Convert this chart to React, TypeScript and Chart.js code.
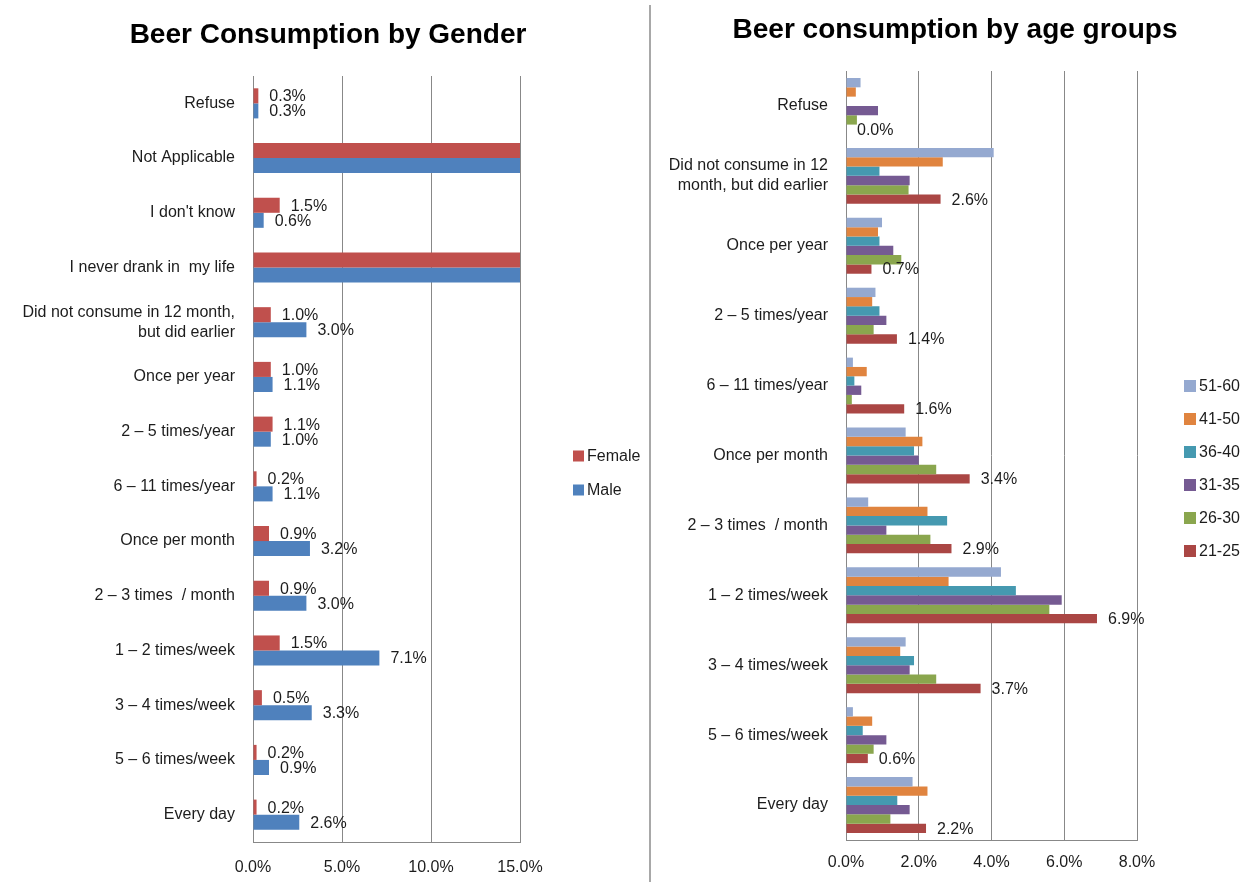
import React, { useEffect, useRef } from "react";
import { Chart, registerables } from "chart.js";

Chart.register(...registerables);

// ---------- Data: Beer consumption by gender ----------
const genderCategories: (string | string[])[] = [
  "Refuse",
  "Not Applicable",
  "I don't know",
  "I never drank in  my life",
  ["Did not consume in 12 month,", "but did earlier"],
  "Once per year",
  "2 – 5 times/year",
  "6 – 11 times/year",
  "Once per month",
  "2 – 3 times  / month",
  "1 – 2 times/week",
  "3 – 4 times/week",
  "5 – 6 times/week",
  "Every day",
];
const femaleValues = [0.3, 20, 1.5, 20, 1.0, 1.0, 1.1, 0.2, 0.9, 0.9, 1.5, 0.5, 0.2, 0.2];
const maleValues = [0.3, 20, 0.6, 20, 3.0, 1.1, 1.0, 1.1, 3.2, 3.0, 7.1, 3.3, 0.9, 2.6];
const genderTicks = { min: 0, max: 15, step: 5 };

// ---------- Data: Beer consumption by age groups ----------
const ageCategories: (string | string[])[] = [
  "Refuse",
  ["Did not consume in 12", "month, but did earlier"],
  "Once per year",
  "2 – 5 times/year",
  "6 – 11 times/year",
  "Once per month",
  "2 – 3 times  / month",
  "1 – 2 times/week",
  "3 – 4 times/week",
  "5 – 6 times/week",
  "Every day",
];
const ageGroups = ["51-60", "41-50", "36-40", "31-35", "26-30", "21-25"];
const age51_60 = [0.4, 4.06, 0.99, 0.81, 0.19, 1.64, 0.61, 4.26, 1.64, 0.19, 1.83];
const age41_50 = [0.27, 2.66, 0.88, 0.72, 0.57, 2.1, 2.24, 2.82, 1.49, 0.72, 2.24];
const age36_40 = [0, 0.92, 0.92, 0.92, 0.23, 1.87, 2.78, 4.67, 1.87, 0.46, 1.41];
const age31_35 = [0.88, 1.75, 1.3, 1.11, 0.42, 2.0, 1.11, 5.93, 1.75, 1.11, 1.75];
const age26_30 = [0.3, 1.72, 1.52, 0.76, 0.16, 2.48, 2.32, 5.59, 2.48, 0.76, 1.22];
const age21_25 = [0.0, 2.6, 0.7, 1.4, 1.6, 3.4, 2.9, 6.9, 3.7, 0.6, 2.2];
const ageTicks = { min: 0, max: 8, step: 2 };

// ---------- Styles ----------
const FONT = "'Liberation Sans', Arial, sans-serif";
const TEXT = "#1c1c1c";
const GRID = "#888888";
const genderColors = ["#C0504D", "#4F81BD"];
const ageColors = ["#95A9D0", "#E0843F", "#4599B0", "#755A92", "#8AA64E", "#AA4644"];

const valueLabelPlugin = {
  id: "valueLabels",
  afterDatasetsDraw(chart: any, _args: any, opts: any) {
    const { ctx } = chart;
    const max = chart.scales.x.max;
    ctx.save();
    ctx.font = `16px ${FONT}`;
    ctx.fillStyle = TEXT;
    ctx.textAlign = "left";
    ctx.textBaseline = "middle";
    (opts.datasets as number[]).forEach((di) => {
      const meta = chart.getDatasetMeta(di);
      const data = chart.data.datasets[di].data as number[];
      meta.data.forEach((el: any, i: number) => {
        const v = data[i];
        if (v > max) return;
        ctx.fillText(v.toFixed(1) + "%", el.x + opts.offset, el.y + opts.dy);
      });
    });
    ctx.restore();
  },
};

const sideLegendPlugin = {
  id: "sideLegend",
  afterDraw(chart: any, _args: any, opts: any) {
    const { ctx, chartArea } = chart;
    ctx.save();
    ctx.font = `16px ${FONT}`;
    ctx.textAlign = "left";
    ctx.textBaseline = "middle";
    chart.data.datasets.forEach((ds: any, i: number) => {
      const y = opts.top + i * opts.gap;
      const x = chartArea.right + opts.dx;
      ctx.fillStyle = ds.backgroundColor;
      ctx.fillRect(x, y - opts.box / 2, opts.box, opts.box);
      ctx.fillStyle = TEXT;
      ctx.fillText(ds.label, x + opts.box + 3, y + 1);
    });
    ctx.restore();
  },
};

const fixedTitlePlugin = {
  id: "fixedTitle",
  afterDraw(chart: any, _args: any, opts: any) {
    const { ctx } = chart;
    ctx.save();
    ctx.font = `bold 28px ${FONT}`;
    ctx.fillStyle = "#000000";
    ctx.textAlign = "center";
    ctx.textBaseline = "middle";
    ctx.fillText(opts.text, opts.x, opts.y);
    ctx.restore();
  },
};

function makeOptions(p: {
  title: { text: string; x: number; y: number };
  ticks: { min: number; max: number; step: number };
  top: number;
  yWidth: number;
  xHeight: number;
  tickPad: number;
  rightPad: number;
  catPct: number;
  labelSets: number[];
  legend: { dx: number; top: number; gap: number; box: number };
}) {
  return {
    indexAxis: "y" as const,
    responsive: false,
    animation: false as const,
    layout: { padding: { left: 0, right: p.rightPad, top: p.top, bottom: 0 } },
    datasets: { bar: { categoryPercentage: p.catPct, barPercentage: 1 } },
    scales: {
      x: {
        type: "linear" as const,
        min: p.ticks.min,
        max: p.ticks.max,
        ticks: {
          stepSize: p.ticks.step,
          callback: (v: any) => Number(v).toFixed(1) + "%",
          font: { family: FONT, size: 16 },
          color: TEXT,
          padding: p.tickPad,
        },
        grid: { color: GRID, drawTicks: false, tickLength: 0, lineWidth: 1 },
        border: { display: true, color: GRID },
        afterFit: (s: any) => {
          s.height = p.xHeight;
        },
      },
      y: {
        type: "category" as const,
        grid: { display: false, drawTicks: false, tickLength: 0 },
        border: { display: true, color: GRID },
        ticks: {
          autoSkip: false,
          font: { family: FONT, size: 16, lineHeight: 1.25 },
          color: TEXT,
          padding: 18,
        },
        afterFit: (s: any) => {
          s.width = p.yWidth;
        },
      },
    },
    plugins: {
      legend: { display: false },
      tooltip: { enabled: false },
      title: { display: false },
      fixedTitle: p.title,
      valueLabels: { datasets: p.labelSets, offset: 11, dy: 1 },
      sideLegend: p.legend,
    },
  };
}

function GenderChart() {
  const ref = useRef<HTMLCanvasElement>(null);
  useEffect(() => {
    if (!ref.current) return;
    const chart = new Chart(ref.current, {
      type: "bar",
      data: {
        labels: genderCategories as any,
        datasets: [
          { label: "Female", data: femaleValues, backgroundColor: genderColors[0], borderWidth: 0 },
          { label: "Male", data: maleValues, backgroundColor: genderColors[1], borderWidth: 0 },
        ],
      },
      options: makeOptions({
        title: { text: "Beer Consumption by Gender", x: 328, y: 35 },
        ticks: genderTicks,
        top: 76,
        yWidth: 253,
        xHeight: 40,
        tickPad: 16,
        rightPad: 130,
        catPct: 0.55,
        labelSets: [0, 1],
        legend: { dx: 53, top: 456, gap: 34, box: 11 },
      }) as any,
      plugins: [valueLabelPlugin, sideLegendPlugin, fixedTitlePlugin],
    });
    return () => chart.destroy();
  }, []);
  return <canvas ref={ref} width={650} height={882} style={{ width: 650, height: 882, display: "block" }} />;
}

function AgeChart() {
  const ref = useRef<HTMLCanvasElement>(null);
  useEffect(() => {
    if (!ref.current) return;
    const series = [age51_60, age41_50, age36_40, age31_35, age26_30, age21_25];
    const chart = new Chart(ref.current, {
      type: "bar",
      data: {
        labels: ageCategories as any,
        datasets: series.map((d, i) => ({
          label: ageGroups[i],
          data: d,
          backgroundColor: ageColors[i],
          borderWidth: 0,
        })),
      },
      options: makeOptions({
        title: { text: "Beer consumption by age groups", x: 304, y: 30 },
        ticks: ageTicks,
        top: 71,
        yWidth: 195,
        xHeight: 42,
        tickPad: 13,
        rightPad: 112,
        catPct: 0.8,
        labelSets: [5],
        legend: { dx: 47, top: 386, gap: 33, box: 12 },
      }) as any,
      plugins: [valueLabelPlugin, sideLegendPlugin, fixedTitlePlugin],
    });
    return () => chart.destroy();
  }, []);
  return <canvas ref={ref} width={598} height={882} style={{ width: 598, height: 882, display: "block" }} />;
}

export default function App() {
  return (
    <div style={{ position: "absolute", left: 0, top: 0, width: 1249, height: 882, background: "#ffffff", overflow: "hidden" }}>
      <div style={{ position: "absolute", left: 0, top: 0 }}>
        <GenderChart />
      </div>
      <div style={{ position: "absolute", left: 649, top: 5, width: 2, height: 877, background: "#a8a8a8" }} />
      <div style={{ position: "absolute", left: 651, top: 0 }}>
        <AgeChart />
      </div>
    </div>
  );
}
